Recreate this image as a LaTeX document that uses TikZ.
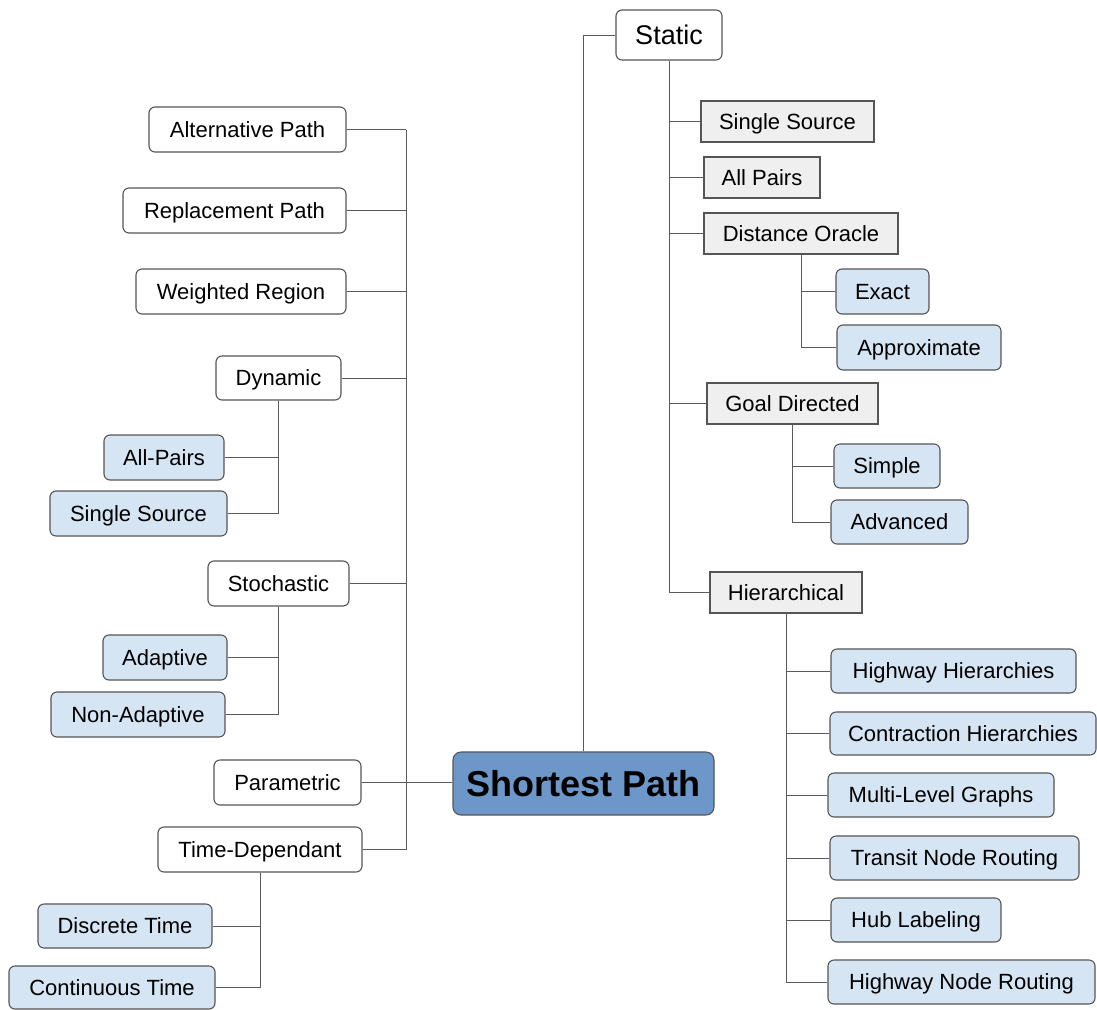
\documentclass[tikz,border=0pt]{standalone}
\usepackage{fontspec}
\setmainfont{Liberation Sans}
\definecolor{lblue}{HTML}{D5E5F3}
\definecolor{lgray}{HTML}{EFEFEF}
\definecolor{spblue}{HTML}{6D97C9}
\definecolor{edgec}{HTML}{555555}
\definecolor{linec}{HTML}{5A5A5A}
\tikzset{
  base/.style={draw=edgec, line width=1.1pt, inner sep=0pt, font=\fontsize{22}{26}\selectfont, text=black, text height=15.8pt, text depth=0pt},
  wbox/.style={base, fill=white, rounded corners=6pt},
  bbox/.style={base, fill=lblue, rounded corners=6pt},
  gbox/.style={base, fill=lgray},
  conn/.style={draw=linec, line width=1pt},
  sz/.style 2 args={minimum width=#1 pt, minimum height=#2 pt}
}
\begin{document}
\begin{tikzpicture}[x=1pt,y=-1pt]
\useasboundingbox (0,0) rectangle (1097,1009);
% root
\node[base, fill=spblue, rounded corners=8pt, sz={261}{63}, font=\fontsize{36}{40}\selectfont\bfseries, text height=25.8pt] (sp) at (583.5,783.5) {Shortest Path};
% right side
\node[wbox, sz={106}{50}, font=\fontsize{27}{31}\selectfont, text height=19.3pt] (static) at (669,35) {Static};
\node[gbox, sz={173}{41}] (ss) at (787.5,121.5) {Single Source};
\node[gbox, sz={116}{41}] (ap) at (762,177.5) {All Pairs};
\node[gbox, sz={194}{41}] (do) at (801,233.5) {Distance Oracle};
\node[bbox, sz={93}{45}] (exact) at (882.5,291.5) {Exact};
\node[bbox, sz={164}{45}] (approx) at (919,347.5) {Approximate};
\node[gbox, sz={171}{41}] (gd) at (792.5,403.5) {Goal Directed};
\node[bbox, sz={106}{44}] (simple) at (887,466) {Simple};
\node[bbox, sz={137}{44}] (adv) at (899.5,522) {Advanced};
\node[gbox, sz={152}{41}] (hier) at (786,592.5) {Hierarchical};
\node[bbox, sz={245}{44}] (hh) at (953.5,671) {Highway Hierarchies};
\node[bbox, sz={266}{43}] (ch) at (963,733.5) {Contraction Hierarchies};
\node[bbox, sz={226}{44}] (mlg) at (941,795) {Multi-Level Graphs};
\node[bbox, sz={249}{44}] (tnr) at (954.5,858) {Transit Node Routing};
\node[bbox, sz={170}{44}] (hub) at (916,920) {Hub Labeling};
\node[bbox, sz={267}{44}] (hnr) at (961.5,982) {Highway Node Routing};
% left side
\node[wbox, sz={197}{45}] (alt) at (247.5,129.5) {Alternative Path};
\node[wbox, sz={223}{45}] (rep) at (234.5,210.5) {Replacement Path};
\node[wbox, sz={210}{45}] (wr) at (241,291.5) {Weighted Region};
\node[wbox, sz={125}{44}] (dyn) at (278.5,378) {Dynamic};
\node[bbox, sz={120}{45}] (allp) at (164,457.5) {All-Pairs};
\node[bbox, sz={177}{45}] (ssl) at (138.5,513.5) {Single Source};
\node[wbox, sz={141}{45}] (sto) at (278.5,583.5) {Stochastic};
\node[bbox, sz={124}{45}] (adap) at (165,657.5) {Adaptive};
\node[bbox, sz={174}{45}] (nonad) at (138,714.5) {Non-Adaptive};
\node[wbox, sz={147}{45}] (param) at (287.5,782.5) {Parametric};
\node[wbox, sz={204}{45}] (td) at (260,849.5) {Time-Dependant};
\node[bbox, sz={174}{44}] (disc) at (125,926) {Discrete Time};
\node[bbox, sz={206}{43}] (cont) at (112,987.5) {Continuous Time};
\coordinate (lt) at (406,0);
% connectors: root
\draw[conn] (sp.north) |- (static.west);
\draw[conn] (param.east) -- (param.east -| sp.west);
% left trunk
\draw[conn] (alt.east -| lt) -- (td.east -| lt);
\foreach \n in {alt,rep,wr,dyn,sto,td}
  \draw[conn] (\n.east) -- (\n.east -| lt);
% static
\foreach \n in {ss,ap,do,gd,hier}
  \draw[conn] (static.south) |- (\n.west);
\foreach \n in {exact,approx}
  \draw[conn] (do.south) |- (\n.west);
\foreach \n in {simple,adv}
  \draw[conn] (gd.south) |- (\n.west);
\foreach \n in {hh,ch,mlg,tnr,hub,hnr}
  \draw[conn] (hier.south) |- (\n.west);
% left sub-trees
\foreach \n in {allp,ssl}
  \draw[conn] (dyn.south) |- (\n.east);
\foreach \n in {adap,nonad}
  \draw[conn] (sto.south) |- (\n.east);
\foreach \n in {disc,cont}
  \draw[conn] (td.south) |- (\n.east);
\end{tikzpicture}
\end{document}
